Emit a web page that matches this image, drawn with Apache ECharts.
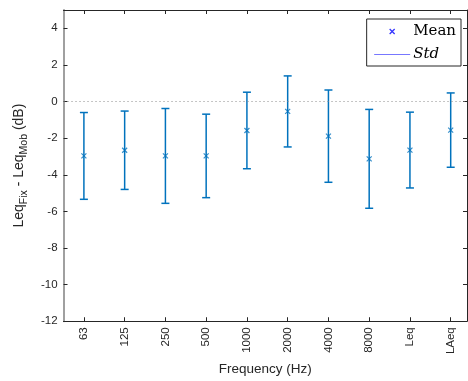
<!DOCTYPE html>
<html>
<head>
<meta charset="UTF-8">
<title>Leq Fix - Mob</title>
<script type="text/javascript" src="https://cdn.jsdelivr.net/npm/echarts@6/dist/echarts.min.js"></script>
</head>
<body style="margin:0;">
<div id="container" style="width:468px;height:381px;"></div>
<script type="text/javascript">
var categories = ['63', '125', '250', '500', '1000', '2000', '4000', '8000', 'Leq', 'LAeq'];
var meanValues = [-2.97, -2.66, -2.97, -2.97, -1.58, -0.54, -1.89, -3.13, -2.65, -1.56];
var stdValues = [2.37, 2.14, 2.59, 2.28, 2.09, 1.94, 2.52, 2.70, 2.07, 2.03];
var yTicks = [-12, -10, -8, -6, -4, -2, 0, 2, 4];

var positions = categories.map(function (c, i) { return i + 1; });
var meanData = meanValues.map(function (m, i) { return [positions[i], m]; });
var barData = meanValues.map(function (m, i) { return [positions[i], m - stdValues[i], m + stdValues[i]]; });

var dom = document.getElementById('container');
var myChart = echarts.init(dom);
var dark = '#262626';
var blue = '#0072BD';
var xMark = 'path://M0,0 L10,10 M10,0 L0,10';

var option = {
  animation: false,
  grid: { left: 61, right: 1, top: 10, bottom: 59 },
  legend: {
    orient: 'vertical',
    right: 7,
    top: 19,
    padding: [3, 5, 2, 5],
    itemGap: 4,
    itemWidth: 36,
    itemHeight: 14,
    backgroundColor: '#fff',
    borderColor: dark,
    borderWidth: 1,
    borderRadius: 0,
    textStyle: { fontFamily: 'DejaVu Serif', fontSize: 15, color: '#000', padding: [0, 0, 0, -2] },
    data: [
      { name: 'Mean', icon: 'path://M0,0 M36,14 M15.5,4.5 L20.5,9.5 M20.5,4.5 L15.5,9.5',
        itemStyle: { color: 'none', borderColor: '#0000ff', borderWidth: 1.3 } },
      { name: 'Std', icon: 'path://M0,0 M36,14 M0,7 L36,7',
        itemStyle: { color: 'none', borderColor: '#7777ff', borderWidth: 1 },
        textStyle: { fontStyle: 'italic' } }
    ]
  },
  xAxis: [
    {
      type: 'value', min: 0.5, max: 10.4,
      name: 'Frequency (Hz)', nameLocation: 'middle', nameGap: 39,
      nameTextStyle: { fontFamily: 'Liberation Sans', fontSize: 13.5, color: dark },
      axisLine: { onZero: false, lineStyle: { color: dark, width: 1 } },
      axisTick: { inside: true, length: 4, lineStyle: { color: dark }, customValues: positions },
      axisLabel: {
        customValues: positions, rotate: 90, margin: 6,
        fontFamily: 'Liberation Sans', fontSize: 11.5, color: dark,
        formatter: function (v) { return categories[Math.round(v) - 1] || ''; }
      },
      splitLine: { show: false }
    },
    {
      type: 'value', min: 0.5, max: 10.4, position: 'top',
      axisLine: { onZero: false, lineStyle: { color: dark, width: 1 } },
      axisTick: { inside: true, length: 4, lineStyle: { color: dark }, customValues: positions },
      axisLabel: { show: false },
      splitLine: { show: false }
    }
  ],
  yAxis: [
    {
      type: 'value', min: -12, max: 5, interval: 2,
      name: 'Leq{sub|Fix} - Leq{sub|Mob} (dB)', nameLocation: 'middle', nameGap: 30,
      nameTextStyle: {
        fontFamily: 'Liberation Sans', fontSize: 14, color: dark, lineHeight: 22,
        rich: { sub: { fontFamily: 'Liberation Sans', fontSize: 10.5, color: dark, lineHeight: 11, verticalAlign: 'bottom' } }
      },
      axisLine: { show: true, onZero: false, lineStyle: { color: '#a0a0a0', width: 2 } },
      axisTick: { show: true, inside: true, length: 4, lineStyle: { color: dark }, customValues: yTicks },
      axisLabel: { customValues: yTicks, margin: 6, fontFamily: 'Liberation Sans', fontSize: 11.5, color: dark },
      splitLine: { show: false }
    },
    {
      type: 'value', min: -12, max: 5, interval: 2, position: 'right',
      axisLine: { show: true, onZero: false, lineStyle: { color: dark, width: 1 } },
      axisTick: { show: true, inside: true, length: 4, lineStyle: { color: dark }, customValues: yTicks },
      axisLabel: { show: false },
      splitLine: { show: false }
    }
  ],
  series: [
    {
      name: 'Std',
      type: 'custom',
      data: barData,
      renderItem: function (params, api) {
        var x = api.value(0);
        var lo = api.coord([x, api.value(1)]);
        var hi = api.coord([x, api.value(2)]);
        var w = 4;
        var style = { stroke: blue, lineWidth: 1.5, fill: null };
        return {
          type: 'group',
          children: [
            { type: 'line', shape: { x1: lo[0], y1: lo[1], x2: hi[0], y2: hi[1] }, style: style },
            { type: 'line', shape: { x1: lo[0] - w, y1: lo[1], x2: lo[0] + w, y2: lo[1] }, style: style },
            { type: 'line', shape: { x1: hi[0] - w, y1: hi[1], x2: hi[0] + w, y2: hi[1] }, style: style }
          ]
        };
      },
      markLine: {
        silent: true,
        symbol: ['none', 'none'],
        label: { show: false },
        lineStyle: { color: '#8c8c8c', type: [1, 3], width: 1 },
        data: [{ yAxis: 0 }]
      },
      z: 2
    },
    {
      name: 'Mean',
      type: 'scatter',
      data: meanData,
      symbol: xMark,
      symbolSize: 5,
      itemStyle: { color: 'none', borderColor: blue, borderWidth: 1.2 },
      z: 3
    }
  ]
};

myChart.setOption(option);
</script>
</body>
</html>
